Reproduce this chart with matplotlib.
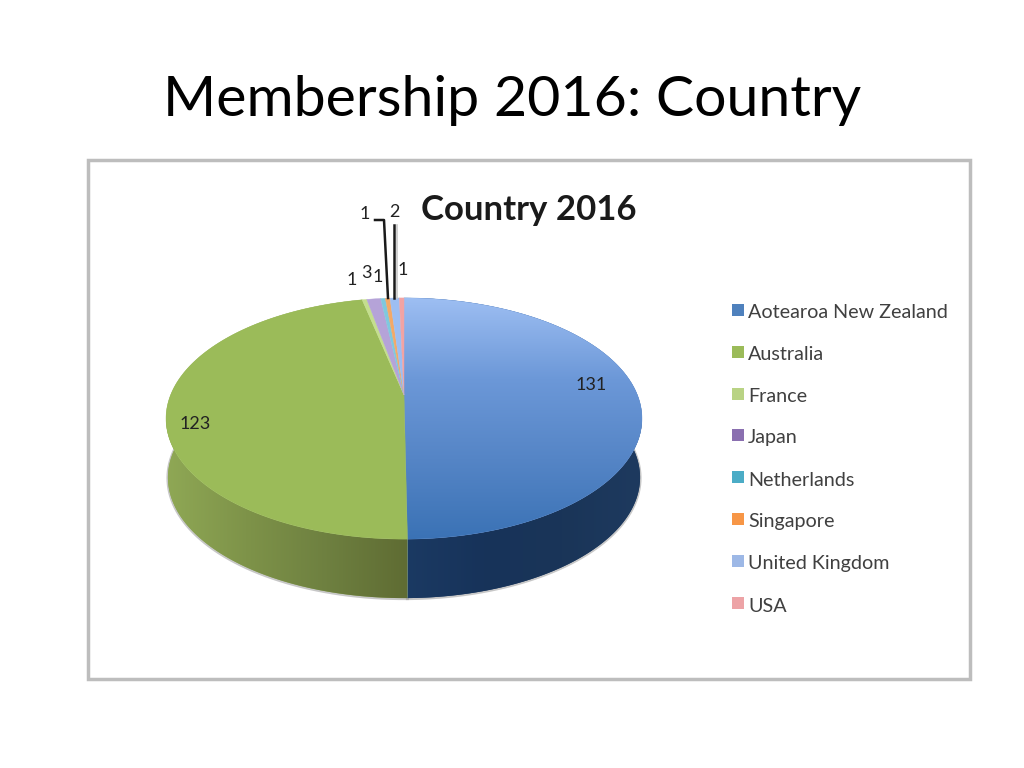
#!/usr/bin/env python3
# Membership 2016 slide: perspective pie drawn by hand on a pixel-sized axes

import numpy as np
import matplotlib
matplotlib.use('Agg')
import matplotlib.pyplot as plt
from matplotlib.colors import LinearSegmentedColormap
from matplotlib.patches import Polygon, Rectangle

plt.rcParams['font.family'] = ['Lato', 'DejaVu Sans']

###########################
# Data
###########################

countries = ['Aotearoa New Zealand', 'Australia', 'France', 'Japan',
             'Netherlands', 'Singapore', 'United Kingdom', 'USA']
members = [131, 123, 1, 3, 1, 1, 2, 1]

legend_colors = ['#4F81BD', '#9BBB59', '#B9D384', '#8A6FB0',
                 '#4BACC6', '#F79646', '#9DB8E6', '#EDA3A6']
top_colors = ['#6C98D8', '#9BBB59', '#C4DE8E', '#B5A3D8',
              '#7FC8DE', '#F3A968', '#9DBEF2', '#F2A3A3']

###########################
# Layout (pixels)
###########################

# where the data labels sit, same order as countries
label_xy = [(591, 385), (195, 424), (352, 280), (366, 273),
            (378, 277), (365, 214), (394, 212), (403, 270)]
legend_rows = [313, 355, 397, 438, 480, 522, 564, 606]

# perspective pie: disc centre, half sizes, tilt factor, rim depth
CX, CY = 404, 395
HALF_W, HALF_H, TILT = 233.4, 116, 0.195
DEPTH = 60


def project(theta):
    """Angle clockwise from the top of the disc -> pixel position"""
    x, y = np.sin(theta), np.cos(theta)
    w = 1 + TILT * y
    return CX + HALF_W * x / w, CY - HALF_H * y / w


def gradient(ax, clip, extent, colors, vertical=True):
    cmap = LinearSegmentedColormap.from_list('g', colors)
    vals = np.linspace(0, 1, 256)
    vals = vals[:, None] if vertical else vals[None, :]
    im = ax.imshow(vals, cmap=cmap, extent=extent, aspect='auto',
                   zorder=clip.get_zorder(), interpolation='bilinear')
    im.set_clip_path(clip)


###########################
# Main
###########################

fig = plt.figure(figsize=(10.24, 7.68), dpi=100)
ax = fig.add_axes([0, 0, 1, 1])
ax.axis('off')

ax.text(512, 100, 'Membership 2016: Country', fontsize=41.2, color='black',
        ha='center', va='center')

ax.add_patch(Rectangle((88, 160), 882, 519, facecolor='white',
                       edgecolor='#BDBDBD', linewidth=2.5))

ax.text(529, 210, 'Country 2016', fontsize=25, fontweight='bold',
        color='#1A1A1A', ha='center', va='center')

# wedge angles come straight from the member counts
edges = np.cumsum([0] + members) / sum(members) * 2 * np.pi

# rim (only the two big slices reach the front)
side_colors = [['#1B3A63', '#17335A', '#1A3558', '#1E3A5F'],
               ['#8FA855', '#7E9349', '#6E8040', '#5F6C33']]
for i in (0, 1):
    th = np.linspace(edges[i], edges[i + 1], 200)
    px, py = project(th)
    low_x = CX + (px - CX) * 0.992
    pts = np.r_[np.c_[px, py], np.c_[low_x, py + DEPTH - 1][::-1]]
    # soft grey fringe around the rim
    ax.plot(low_x, py + DEPTH - 0.5, color='#9A9A9A', lw=2.2, alpha=0.55, zorder=2)
    rim = Polygon(pts, closed=True, facecolor=side_colors[i][0], edgecolor='none', zorder=3)
    ax.add_patch(rim)
    ext = (404, 642, 600, 420) if i == 0 else (166, 407, 600, 420)
    gradient(ax, rim, ext, side_colors[i], vertical=False)

# top of the pie
for i, color in enumerate(top_colors):
    th = np.linspace(edges[i], edges[i + 1], max(4, int(members[i] * 3)))
    px, py = project(th)
    pts = np.r_[[(CX, CY)], np.c_[px, py]]
    wedge = Polygon(pts, closed=True, facecolor=color, edgecolor=color, lw=0.3, zorder=4)
    ax.add_patch(wedge)
    if i == 0:
        gradient(ax, wedge, (404, 644, 540, 298),
                 ['#9DBEF2', '#6C98D8', '#5585C6', '#3A72B5'])

# leader lines for the two labels that were pulled out
ax.plot([375, 384, 388], [220, 220, 298], color='#1A1A1A', lw=1.8, zorder=5)
ax.plot([394, 394], [225, 298], color='#1A1A1A', lw=1.8, zorder=5)
ax.plot([397, 397], [225, 298], color='#C8C8C8', lw=1.2, zorder=5)

# data labels
for n, (lx, ly) in zip(members, label_xy):
    ax.text(lx, ly, str(n), fontsize=13, color='#222222', ha='center', va='center', zorder=6)

# legend
for name, color, row in zip(countries, legend_colors, legend_rows):
    ax.add_patch(Rectangle((732, row - 9), 12, 12, facecolor=color, edgecolor='none', zorder=5))
    ax.text(748, row, name, fontsize=14.2, color='#404040', ha='left', va='center', zorder=6)

ax.set_xlim(0, 1024)
ax.set_ylim(768, 0)

fig.savefig('out.png', dpi=100, facecolor='white')
